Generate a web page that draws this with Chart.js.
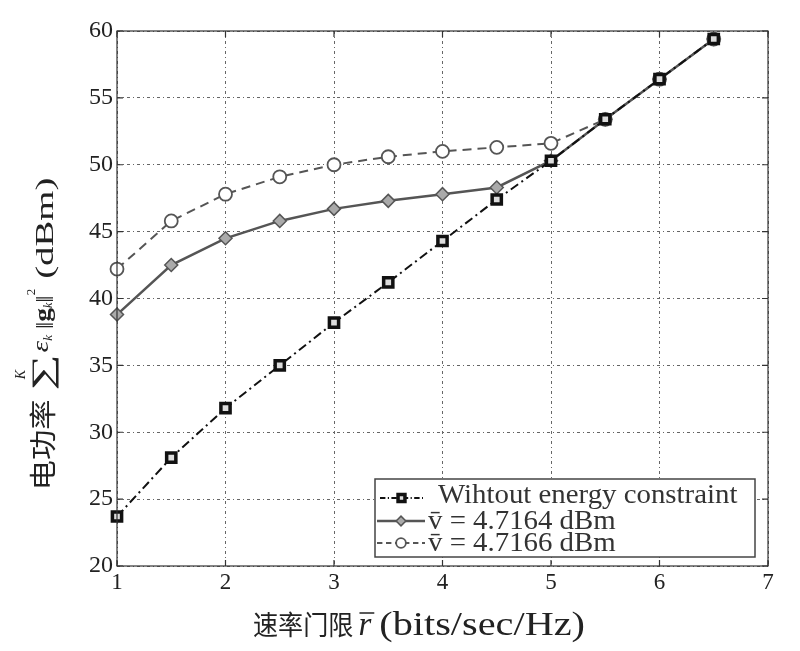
<!DOCTYPE html>
<html>
<head>
<meta charset="utf-8">
<script src="https://cdn.jsdelivr.net/npm/chart.js@4.4.1/dist/chart.umd.min.js"></script>
<style>
html,body{margin:0;padding:0;background:#fff;}
#wrap{width:800px;height:651px;}
</style>
</head>
<body>
<div id="wrap"><canvas id="c" width="800" height="651"></canvas></div>
<script>
const rates = [1, 1.5, 2, 2.5, 3, 3.5, 4, 4.5, 5, 5.5, 6, 6.5];
const noConstraint = [23.7, 28.1, 31.8, 35.0, 38.2, 41.2, 44.3, 47.4, 50.3, 53.4, 56.4, 59.4];
const v4_7164 = [38.8, 42.5, 44.5, 45.8, 46.7, 47.3, 47.8, 48.3, 50.3, 53.4, 56.4, 59.4];
const v4_7166 = [42.2, 45.8, 47.8, 49.1, 50.0, 50.6, 51.0, 51.3, 51.6, 53.4, 56.4, 59.4];
const seriesNames = ['Wihtout energy constraint', 'v\u0304 = 4.7164 dBm', 'v\u0304 = 4.7166 dBm'];
const xTicks = [1, 2, 3, 4, 5, 6, 7];
const yTicks = [20, 25, 30, 35, 40, 45, 50, 55, 60];
const xTitleCJK = '速率门限';
const xTitleUnit = '(bits/sec/Hz)';
const yTitleCJK = '电功率';
const yTitleUnit = '(dBm)';

const SERIF = '"Liberation Serif", "Noto Sans CJK SC", serif';
const CJK = '"Noto Sans CJK SC", sans-serif';

const pts = arr => rates.map((r, i) => ({x: r, y: arr[i]}));

const datasets = [
  {label: seriesNames[0], data: pts(noConstraint), borderColor: '#111', borderWidth: 2,
   borderDash: [9, 4, 2, 4], pointStyle: 'rect', pointRadius: 6.5, pointBorderWidth: 3.5,
   pointBorderColor: '#111', pointBackgroundColor: '#ddd'},
  {label: seriesNames[1], data: pts(v4_7164), borderColor: '#555', borderWidth: 2.5,
   pointStyle: 'rectRot', pointRadius: 6.5, pointBorderWidth: 1.5,
   pointBorderColor: '#555', pointBackgroundColor: '#aaa'},
  {label: seriesNames[2], data: pts(v4_7166), borderColor: '#555', borderWidth: 2,
   borderDash: [9, 6], pointStyle: 'circle', pointRadius: 6.5, pointBorderWidth: 1.8,
   pointBorderColor: '#555', pointBackgroundColor: '#fff'}
];

// draws a sequence of text pieces: {t, font, dx, dy, gap, sx, adv, over}
function drawPieces(ctx, pieces, cx, baseY) {
  let total = 0;
  pieces.forEach(p => {
    ctx.font = p.font;
    p.sxv = p.sx || 1;
    p.width = p.adv !== undefined ? p.adv : ctx.measureText(p.t).width * p.sxv;
    total += p.width + (p.gap || 0);
  });
  let x = cx - total / 2;
  pieces.forEach(p => {
    ctx.font = p.font;
    const px = x + (p.dx || 0);
    ctx.save();
    ctx.translate(px, baseY + (p.dy || 0));
    ctx.scale(p.sxv, 1);
    ctx.fillText(p.t, 0, 0);
    if (p.over) {
      const w = ctx.measureText(p.t).width;
      ctx.beginPath();
      ctx.lineWidth = 1.5;
      ctx.moveTo(1, p.over); ctx.lineTo(w + 3, p.over);
      ctx.stroke();
    }
    ctx.restore();
    x += p.width + (p.gap || 0);
  });
}

const framePlugin = {
  id: 'frame',
  afterDatasetsDraw(chart) {
    const {ctx, chartArea: a, scales} = chart;
    ctx.save();
    ctx.strokeStyle = '#333';
    ctx.lineWidth = 1.2;
    ctx.strokeRect(a.left, a.top, a.right - a.left, a.bottom - a.top);
    const L = 6;
    ctx.beginPath();
    xTicks.forEach(v => {
      const x = scales.x.getPixelForValue(v);
      ctx.moveTo(x, a.bottom); ctx.lineTo(x, a.bottom - L);
      ctx.moveTo(x, a.top); ctx.lineTo(x, a.top + L);
    });
    yTicks.forEach(v => {
      const y = scales.y.getPixelForValue(v);
      ctx.moveTo(a.left, y); ctx.lineTo(a.left + L, y);
      ctx.moveTo(a.right, y); ctx.lineTo(a.right - L, y);
    });
    ctx.stroke();

    // legend box
    const bx = 375, by = 479, bw = 380, bh = 78;
    ctx.fillStyle = '#fff';
    ctx.fillRect(bx, by, bw, bh);
    ctx.strokeStyle = '#444';
    ctx.lineWidth = 1.5;
    ctx.strokeRect(bx, by, bw, bh);
    const lineY = [498, 521, 543];
    const baseY = [503, 529, 551];
    const samples = [[380, 423, 438], [377, 425, 428], [377, 425, 428]];
    chart.data.datasets.forEach((ds, i) => {
      const y = lineY[i];
      const [x0, x1, tx] = samples[i];
      ctx.save();
      ctx.strokeStyle = ds.borderColor;
      ctx.lineWidth = ds.borderWidth;
      ctx.setLineDash(ds.borderDash ? ds.borderDash.map(d => d * 0.6) : []);
      ctx.beginPath(); ctx.moveTo(x0, y); ctx.lineTo(x1, y); ctx.stroke();
      ctx.setLineDash([]);
      ctx.fillStyle = ds.pointBackgroundColor;
      ctx.strokeStyle = ds.pointBorderColor;
      ctx.lineWidth = ds.pointBorderWidth;
      Chart.helpers.drawPoint(ctx, {pointStyle: ds.pointStyle, radius: ds.pointRadius * 0.75,
        borderWidth: ds.pointBorderWidth, rotation: 0}, (x0 + x1) / 2, y);
      ctx.restore();
      ctx.fillStyle = '#333';
      ctx.font = '28px ' + SERIF;
      ctx.textBaseline = 'alphabetic';
      ctx.textAlign = 'left';
      ctx.save();
      ctx.translate(tx, baseY[i]);
      ctx.scale(1.03, 1);
      ctx.fillText(ds.label, 0, 0);
      ctx.restore();
    });

    // x title
    ctx.fillStyle = '#222';
    ctx.strokeStyle = '#222';
    ctx.textAlign = 'left';
    ctx.textBaseline = 'alphabetic';
    drawPieces(ctx, [
      {t: xTitleCJK, font: '27px ' + CJK, sx: 0.93, gap: 5},
      {t: 'r', font: 'italic 33px ' + SERIF, over: -22, gap: 8},
      {t: xTitleUnit, font: '33px ' + SERIF, sx: 1.22}
    ], 419, 635);

    // y title (rotated)
    ctx.save();
    ctx.translate(53, 334);
    ctx.rotate(-Math.PI / 2);
    drawPieces(ctx, [
      {t: yTitleCJK, font: '27px ' + CJK, sx: 1.12, gap: 9},
      {t: '\u2211', font: '30px ' + SERIF, sx: 1.7, dy: -1, gap: 2},
      {t: 'K', font: 'italic 14px ' + SERIF, dx: -27, dy: -28, adv: 0},
      {t: '\u03b5', font: 'italic 24px ' + SERIF, sx: 1.2, dy: -5},
      {t: 'k', font: 'italic 13px ' + SERIF, dy: -1, gap: 6},
      {t: '\u2016', font: '26px ' + SERIF},
      {t: 'g', font: 'bold 23px ' + SERIF, sx: 1.2, dy: -3},
      {t: 'k', font: 'italic 12px ' + SERIF, dy: -1},
      {t: '\u2016', font: '26px ' + SERIF},
      {t: '2', font: '13px ' + SERIF, dy: -18, gap: 10},
      {t: yTitleUnit, font: '25px ' + SERIF, sx: 1.55}
    ], 0, 0);
    ctx.restore();
    ctx.restore();
  }
};

new Chart(document.getElementById('c'), {
  type: 'line',
  data: {datasets},
  options: {
    responsive: false,
    animation: false,
    devicePixelRatio: 1,
    layout: {padding: {left: 0, right: 32, top: 31, bottom: 0}},
    plugins: {legend: {display: false}, tooltip: {enabled: false}},
    elements: {line: {tension: 0}},
    datasets: {line: {clip: false}},
    scales: {
      x: {
        type: 'linear', min: 1, max: 7,
        afterBuildTicks: s => { s.ticks = xTicks.map(v => ({value: v})); },
        afterFit: s => { s.height = 85; },
        ticks: {color: '#222', font: {family: SERIF, size: 23}, padding: 3},
        grid: {color: '#666', lineWidth: 1, drawTicks: false},
        border: {display: false, dash: [3, 3, 1, 3]},
        title: {display: false}
      },
      y: {
        min: 20, max: 60,
        afterBuildTicks: s => { s.ticks = yTicks.map(v => ({value: v})); },
        afterFit: s => { s.width = 117; },
        ticks: {color: '#222', font: {family: SERIF, size: 24}, padding: 4},
        grid: {color: '#666', lineWidth: 1, drawTicks: false},
        border: {display: false, dash: [3, 3, 1, 3]},
        title: {display: false}
      }
    }
  },
  plugins: [framePlugin]
});
</script>
</body>
</html>
